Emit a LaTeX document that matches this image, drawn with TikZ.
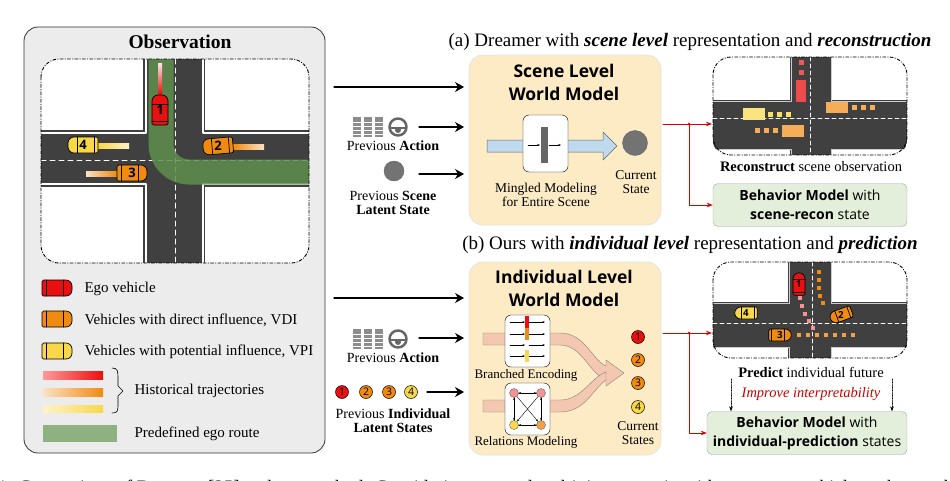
\documentclass[tikz,border=0pt]{standalone}
\usepackage{fontspec}
\setmainfont{Liberation Serif}
\setsansfont{Open Sans}
\usetikzlibrary{arrows.meta}

\definecolor{roadgray}{HTML}{404040}
\definecolor{egored}{HTML}{E81010}
\definecolor{vdiorange}{HTML}{F08A10}
\definecolor{vpiyellow}{HTML}{F8D848}
\definecolor{routegreen}{HTML}{5E8F4C}
\definecolor{wmyellow}{HTML}{FCEBC4}
\definecolor{bmgreen}{HTML}{E3EFDA}
\definecolor{obsgray}{HTML}{ECECEC}
\definecolor{flowpink}{HTML}{F4C8B0}
\definecolor{flowblue}{HTML}{BFD9EE}

\tikzset{
  panel/.style={draw=black!80, rounded corners=14, line width=0.8pt},
  viewbox/.style={draw=black, dash dot, rounded corners=18, line width=0.9pt},
  bmbox/.style={draw=black!35, fill=bmgreen, rounded corners=5},
  inbox/.style={draw=black, fill=white, rounded corners=6},
  flow/.style={-{Stealth[length=9pt,width=10pt]}, line width=1.2pt},
  redflow/.style={-{Stealth[length=6pt]}, draw=red!85!black, line width=0.8pt},
  tok/.style={circle, draw=black, line width=0.5pt, inner sep=0pt, minimum size=13pt,
    font=\sffamily\fontsize{10.5}{10.5}\selectfont},
  serif/.style={font=\fontsize{#1}{#1}\selectfont, align=center},
  sans/.style={font=\sffamily\fontsize{#1}{#1}\selectfont, align=center},
}

% vehicle: [scale] position, angle, colour, label
\newcommand\vehicle[5][1]{%
  \begin{scope}[shift={#2}, rotate=#3, scale=#1]
    \draw[fill=#4, line width=0.7pt, rounded corners=1.5pt] (-15,-8) -- (6,-8)
      [rounded corners=6pt] -- (15,-8) -- (15,8) [rounded corners=1.5pt] -- (-15,8) -- cycle;
    \draw[line width=0.7pt] (6,-8) -- (6,8);
    \draw[line width=0.7pt] (-11,-8) -- (-11,8);
  \end{scope}
  \pgfmathsetmacro\vehfs{13*#1}%
  \node[font=\sffamily\bfseries\fontsize{\vehfs}{13}\selectfont] at #2 {#5};}

% pedals and wheel icon
\newcommand\actionicon[1]{%
  \begin{scope}[shift={#1}]
    \foreach \dx in {-24,-13,-2}
      \fill[black!45] (\dx-4,-10) rectangle (\dx+4,10);
    \foreach \dx in {-24,-13,-2}
      \foreach \dy in {-5,-1,3,7}
        \draw[white, line width=0.4pt] (\dx-4,\dy) -- (\dx+4,\dy);
    \draw[black!60, line width=2.5pt] (17,0) circle (8.5);
    \draw[black!60, line width=2.5pt] (9,1) -- (25,1);
    \fill[black!60] (17,3) circle (3);
  \end{scope}}

\begin{document}
\begin{tikzpicture}[x=1pt, y=-1pt, line cap=round, line join=round]
\useasboundingbox (0,0) rectangle (950,480);

% ---------------- observation panel ----------------
\draw[panel, fill=obsgray] (24,27) rectangle (325,453);
\node[font=\bfseries\fontsize{19.5}{19.5}\selectfont] (obstitle) at (180,42) {Observation};

\begin{scope}
  \clip[rounded corners=18] (41,59) rectangle (309,263);
  \fill[white] (41,59) rectangle (309,263);
  \fill[roadgray] (143,59) rectangle (205,263);
  \fill[roadgray] (41,130) rectangle (309,187);
  % white kerbs
  \draw[white, line width=1.5pt] (146,59) -- (146,133) -- (41,133);
  \draw[white, line width=1.5pt] (203,59) -- (203,133) -- (309,133);
  \draw[white, line width=1.5pt] (146,263) -- (146,184) -- (41,184);
  \draw[white, line width=1.5pt] (203,263) -- (203,184) -- (309,184);
  \draw[white, line width=1pt, dash pattern=on 5pt off 4pt] (175,59) -- (175,263);
  \draw[white, line width=1pt, dash pattern=on 5pt off 4pt] (41,160) -- (309,160);
  % ego route
  \draw[routegreen, opacity=0.85, line width=25pt, rounded corners=28, line cap=butt]
    (161,59) -- (161,172) -- (309,172);
  % trails
  \shade[top color=red!10, bottom color=egored] (158,63) rectangle (162,94);
  \shade[left color=vpiyellow, right color=vpiyellow!30] (98,143) rectangle (129,148);
  \shade[left color=vdiorange, right color=vdiorange!25] (233,144) rectangle (264,149);
  \shade[left color=vdiorange!25, right color=vdiorange] (86,171) rectangle (117,176);
\end{scope}
\draw[viewbox] (41,59) rectangle (309,263);
\vehicle{(160,110)}{90}{egored}{1}
\vehicle{(83,145)}{180}{vpiyellow}{4}
\vehicle{(218,146)}{185}{vdiorange}{2}
\vehicle{(132,173)}{0}{vdiorange}{3}

% legend
\vehicle{(57,288)}{0}{egored}{}
\vehicle{(57,319)}{0}{vdiorange}{}
\vehicle{(57,351)}{0}{vpiyellow}{}
\node[serif=15, anchor=west] (egotxt) at (81,289) {Ego vehicle};
\node[serif=15, anchor=west] (vditxt) at (81,320) {Vehicles with direct influence, VDI};
\node[serif=15, anchor=west] (vpitxt) at (81,352) {Vehicles with potential influence, VPI};
\shade[left color=red!40, right color=egored] (43,371) rectangle (103,379);
\shade[left color=vdiorange!25, right color=vdiorange] (43,388) rectangle (103,396);
\shade[left color=vpiyellow!30, right color=vpiyellow] (43,405) rectangle (103,412);
\draw[line width=0.6pt] (112,368) .. controls (118,368) and (118,371) .. (118,380)
  -- (118,386) -- (123,391) -- (118,396) -- (118,403) .. controls (118,411) and (118,413) .. (112,413);
\node[serif=15, anchor=west] (histtxt) at (131,391) {Historical trajectories};
\fill[routegreen!70] (43,425) rectangle (117,442);
\node[serif=15, anchor=west] (routetxt) at (131,434) {Predefined ego route};

% ---------------- captions ----------------
\node[serif=19] (capa) at (690,42) {(a) Dreamer with \textbf{\textit{scene level}} representation and \textbf{\textit{reconstruction}}};
\node[serif=19] (capb) at (690,245) {(b) Ours with \textbf{\textit{individual level}} representation and \textbf{\textit{prediction}}};

% ---------------- (a) scene level ----------------
\draw[panel, draw=black!10, fill=wmyellow] (469,55) rectangle (661,225);
\node[font=\sffamily\bfseries\fontsize{17.5}{23}\selectfont, align=center] (scenewm) at (564,82) {Scene Level\\World Model};
\fill[flowblue, draw=black!60, line width=0.5pt]
  (487,140) -- (603,140) -- (603,132) -- (617,146) -- (603,160) -- (603,152) -- (487,152) -- cycle;
\draw[inbox] (523,115) rectangle (568,172);
\fill[black!60] (541,127) rectangle (548,163);
\draw[-{Stealth[length=3pt]}, line width=0.5pt] (528,145) -- (540,145);
\draw[-{Stealth[length=3pt]}, line width=0.5pt] (549,145) -- (561,145);
\node[serif=13.5] (mingled) at (546,195) {Mingled Modeling\\for Entire Scene};
\node[circle, draw=black!60, fill=black!55, minimum size=25pt, inner sep=0pt] (curstate) at (635,143) {};
\node[serif=13.5] (curstatetxt) at (636,182) {Current\\State};

\actionicon{(381,127)}
\node[serif=14] (acta) at (393,146) {Previous \textbf{Action}};
\node[circle, draw=black!60, fill=black!55, minimum size=20pt, inner sep=0pt] (prevscene) at (394,171) {};
\node[serif=14] (prevscenetxt) at (393,203) {Previous \textbf{Scene}\\\textbf{Latent State}};
\coordinate (obsA) at (334,87);
\coordinate (wmA) at (464,87);
\draw[flow] (obsA) -- (wmA);
\coordinate (actA) at (419,127);
\coordinate (actAend) at (464,127);
\draw[flow] (actA) -- (actAend);
\coordinate (stA) at (419,174);
\coordinate (stAend) at (464,174);
\draw[flow] (stA) -- (stAend);

% reconstructed scene
\begin{scope}
  \clip[rounded corners=14] (713,57) rectangle (907,155);
  \fill[white] (713,57) rectangle (907,155);
  \fill[roadgray] (790,57) rectangle (832,155);
  \fill[roadgray] (713,100) rectangle (907,150);
  \draw[white!80!black, line width=1pt] (791,57) -- (791,101) -- (713,101);
  \draw[white!80!black, line width=1pt] (831,57) -- (831,101) -- (907,101);
  \draw[white!80!black, line width=1pt] (791,155) -- (791,149) -- (713,149);
  \draw[white!80!black, line width=1pt] (831,155) -- (831,149) -- (907,149);
  \draw[white, line width=0.7pt, dash pattern=on 4pt off 3pt] (810,57) -- (810,155);
  \draw[white, line width=0.7pt, dash pattern=on 4pt off 3pt] (713,118) -- (907,118);
  \foreach \yy in {62,72} \fill[egored!70] (799,\yy-2) rectangle (804,\yy+3);
  \fill[egored!75] (796,80) rectangle (806,102);
  \fill[vpiyellow!70] (743,108) rectangle (765,120);
  \foreach \xx in {768,777,786} \fill[vpiyellow!80] (\xx,112) rectangle (\xx+5,117);
  \fill[vdiorange!70] (826,102) rectangle (848,113);
  \foreach \xx in {852,861,870} \fill[vdiorange!70] (\xx,105) rectangle (\xx+5,110);
  \fill[vdiorange!70] (782,125) rectangle (804,137);
  \foreach \xx in {755,764,773} \fill[vdiorange!70] (\xx,128) rectangle (\xx+5,133);
\end{scope}
\draw[viewbox] (713,57) rectangle (907,155);
\node[serif=14.5] (recontxt) at (811,167) {\textbf{Reconstruct} scene observation};
\node[bmbox, minimum width=194pt, minimum height=43pt, font=\sffamily\fontsize{14}{19}\selectfont, align=center] (bmA) at (810,205) {\textbf{Behavior Model} with\\\textbf{scene-recon} state};

\coordinate (outA) at (663,124);
\coordinate (splitA) at (689,124);
\coordinate (imgA) at (712,124);
\draw[redflow, -] (outA) -- (splitA);
\draw[redflow] (splitA) -- (imgA);
\draw[redflow] (splitA) |- (bmA.west);
\fill[red!85!black] (splitA) circle (1.3);

% ---------------- (b) individual level ----------------
\draw[panel, draw=black!10, fill=wmyellow] (469,262) rectangle (661,455);
\node[font=\sffamily\bfseries\fontsize{17.5}{23}\selectfont, align=center] (indwm) at (564,288) {Individual Level\\World Model};
% flows merging
\fill[flowpink, draw=black!50, line width=0.4pt]
  (483,333) -- (560,333) .. controls (585,333) and (592,360) .. (606,366) -- (606,360) -- (624,373)
  -- (606,386) -- (606,380) .. controls (588,372) and (582,345) .. (560,345) -- (483,345) -- cycle;
\fill[flowpink, draw=black!50, line width=0.4pt]
  (483,400) -- (560,400) .. controls (582,400) and (590,378) .. (606,372) -- (606,380)
  .. controls (592,390) and (585,412) .. (560,412) -- (483,412) -- cycle;
\draw[inbox] (505,315) rectangle (550,367);
\foreach \yy in {322,334,345,356}{
  \draw[-{Stealth[length=2.5pt]}, line width=0.4pt] (510,\yy) -- (525,\yy);
  \draw[-{Stealth[length=2.5pt]}, line width=0.4pt] (529,\yy) -- (545,\yy);
}
\fill[egored] (525,316) rectangle (529,328);
\fill[vdiorange] (525,328) rectangle (529,340);
\fill[vpiyellow] (525,350) rectangle (529,362);
\node[serif=13] (branchtxt) at (526,375) {Branched Encoding};
\draw[inbox] (505,383) rectangle (550,435);
\node[circle, draw=black!60, fill=egored!45, minimum size=9pt, inner sep=0pt] (r1) at (514,393) {};
\node[circle, draw=black!60, fill=egored!45, minimum size=9pt, inner sep=0pt] (r2) at (541,393) {};
\node[circle, draw=black!60, fill=vpiyellow, minimum size=9pt, inner sep=0pt] (r3) at (514,425) {};
\node[circle, draw=black!60, fill=vdiorange!80, minimum size=9pt, inner sep=0pt] (r4) at (541,425) {};
\foreach \a/\b in {r1/r2,r2/r1,r1/r3,r3/r1,r2/r4,r4/r2,r3/r4,r4/r3,r1/r4,r2/r3}
  \draw[-{Stealth[length=2.5pt]}, line width=0.4pt] (\a) -- (\b);
\node[serif=13] (relatxt) at (526,442) {Relations Modeling};

\node[tok, fill=egored] (c1) at (638,337) {1};
\node[tok, fill=vdiorange] (c2) at (638,360) {2};
\node[tok, fill=vdiorange] (c3) at (638,383) {3};
\node[tok, fill=vpiyellow] (c4) at (638,407) {4};
\node[serif=13.5] (curstatestxt) at (638,433) {Current\\States};

\actionicon{(381,339)}
\node[serif=14] (actb) at (393,358) {Previous \textbf{Action}};
\node[tok, fill=egored] (p1) at (342,392) {1};
\node[tok, fill=vdiorange] (p2) at (366,392) {2};
\node[tok, fill=vdiorange] (p3) at (389,392) {3};
\node[tok, fill=vpiyellow] (p4) at (411,392) {4};
\node[serif=14] (previndtxt) at (393,421) {Previous \textbf{Individual}\\\textbf{Latent States}};
\coordinate (obsB) at (334,298);
\coordinate (wmB) at (464,298);
\draw[flow] (obsB) -- (wmB);
\coordinate (actB) at (419,338);
\coordinate (actBend) at (464,338);
\draw[flow] (actB) -- (actBend);
\coordinate (stB) at (427,392);
\coordinate (stBend) at (464,392);
\draw[flow] (stB) -- (stBend);

% predicted scene
\begin{scope}
  \clip[rounded corners=14] (713,262) rectangle (907,358);
  \fill[white] (713,262) rectangle (907,358);
  \fill[roadgray] (788,262) rectangle (832,358);
  \fill[roadgray] (713,302) rectangle (907,348);
  \draw[white!80!black, line width=1pt] (789,262) -- (789,303) -- (713,303);
  \draw[white!80!black, line width=1pt] (831,262) -- (831,303) -- (907,303);
  \draw[white!80!black, line width=1pt] (789,358) -- (789,347) -- (713,347);
  \draw[white!80!black, line width=1pt] (831,358) -- (831,347) -- (907,347);
  \draw[white, line width=0.7pt, dash pattern=on 4pt off 3pt] (812,262) -- (812,358);
  \draw[white, line width=0.7pt, dash pattern=on 4pt off 3pt] (713,323) -- (907,323);
  \foreach \xx/\yy in {800/298,802/306,805/314,809/321,813/328}
    \fill[egored!45] (\xx-2,\yy-2) rectangle (\xx+2,\yy+2);
  \foreach \xx/\yy in {819/272,819/280,819/288,820/296,823/303}
    \fill[vdiorange] (\xx-2,\yy-2) rectangle (\xx+2,\yy+2);
  \foreach \xx in {799,808,817,826,835,844,853}
    \fill[vdiorange!80] (\xx-2,335-2) rectangle (\xx+2,335+2);
\end{scope}
\draw[viewbox] (713,262) rectangle (907,358);
\vehicle[0.75]{(799,284)}{90}{egored}{1}
\vehicle[0.75]{(746,313)}{180}{vpiyellow}{4}
\vehicle[0.75]{(841,315)}{200}{vdiorange}{2}
\vehicle[0.75]{(780,335)}{0}{vdiorange}{3}
\node[serif=14.5] (predtxt) at (811,372) {\textbf{Predict} individual future};
\node[text=red!80!black, font=\itshape\fontsize{14.5}{14.5}\selectfont] (interp) at (811,394) {Improve interpretability};
\node[bmbox, minimum width=200pt, minimum height=43pt, font=\sffamily\fontsize{14}{19}\selectfont, align=center] (bmB) at (807,433) {\textbf{Behavior Model} with\\\textbf{individual-prediction} states};
\coordinate (dotL) at (731,379);
\coordinate (dotR) at (892,379);
\draw[densely dotted, -{Stealth[length=5pt]}, line width=0.6pt] (dotL) -- (dotL |- bmB.north);
\draw[densely dotted, -{Stealth[length=5pt]}, line width=0.6pt] (dotR) -- (dotR |- bmB.north);

\coordinate (outB) at (663,333);
\coordinate (splitB) at (689,333);
\coordinate (imgB) at (712,333);
\draw[redflow, -] (outB) -- (splitB);
\draw[redflow] (splitB) -- (imgB);
\draw[redflow] (splitB) |- (bmB.west);
\fill[red!85!black] (splitB) circle (1.3);

% cut-off caption line
\node[serif=19, anchor=west] (figcap) at (-6,489) {1: Comparison of Dreamer [25] and our method. Considering a complex driving scenario with numerous vehicles, where only vehicles with direct};
\end{tikzpicture}
\end{document}
